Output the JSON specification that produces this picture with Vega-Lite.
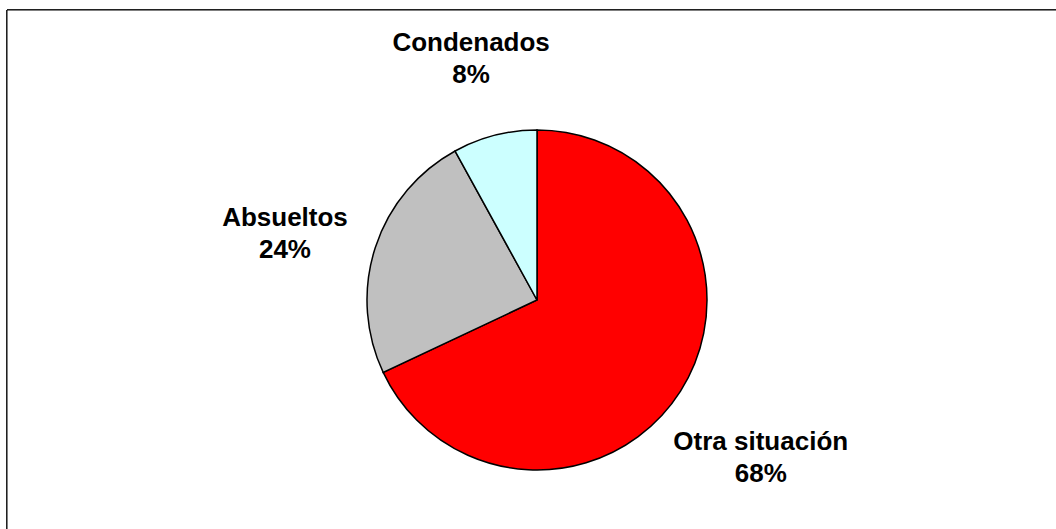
{
  "$schema": "https://vega.github.io/schema/vega-lite/v6.json",
  "width": 1060,
  "height": 580,
  "autosize": {"type": "none"},
  "padding": {"left": 7, "top": 10, "right": 0, "bottom": 0},
  "background": "white",
  "config": {"view": {"stroke": null}},
  "data": {"values": [
    {"category": "Otra situación", "percent": 68, "order": 1},
    {"category": "Absueltos", "percent": 24, "order": 2},
    {"category": "Condenados", "percent": 8, "order": 3}
  ]},
  "transform": [{"calculate": "datum.category + '\\n' + datum.percent + '%'", "as": "label"}],
  "layer": [
    {
      "mark": {"type": "rect", "fill": "white", "stroke": "black", "strokeWidth": 1},
      "encoding": {}
    },
    {
      "mark": {"type": "arc", "outerRadius": 170, "stroke": "black", "strokeWidth": 1.5},
      "encoding": {
        "theta": {"field": "percent", "type": "quantitative", "stack": true},
        "order": {"field": "order", "type": "quantitative"},
        "color": {
          "field": "category",
          "type": "nominal",
          "scale": {"domain": ["Otra situación", "Absueltos", "Condenados"], "range": ["#FF0000", "#C0C0C0", "#CCFFFF"]},
          "legend": null
        }
      }
    },
    {
      "mark": {"type": "text", "radius": 265, "fontSize": 26, "fontWeight": "bold", "font": "Liberation Sans", "lineBreak": "\n", "lineHeight": 32, "fill": "black"},
      "encoding": {
        "theta": {"field": "percent", "type": "quantitative", "stack": true},
        "order": {"field": "order", "type": "quantitative"},
        "text": {"field": "label", "type": "nominal"}
      }
    }
  ]
}
